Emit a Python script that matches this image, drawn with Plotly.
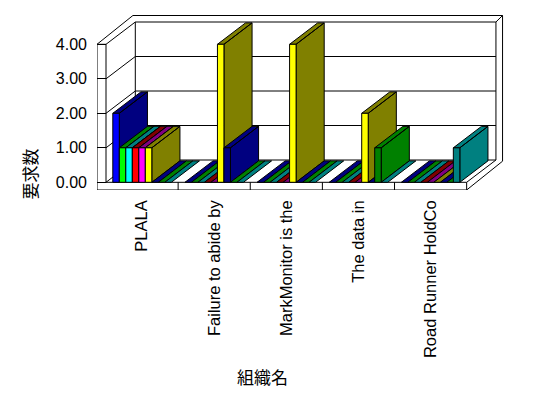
import plotly.graph_objects as go

# ---------------- data ----------------
categories = ["PLALA", "Failure to abide by", "MarkMonitor is the", "The data in", "Road Runner HoldCo"]
series_names = ["系列1", "系列2", "系列3", "系列4", "系列5", "系列6", "系列7", "系列8", "系列9"]
s1 = [2, 0, 0, 0, 0]
s2 = [1, 0, 0, 0, 0]
s3 = [1, 0, 0, 0, 0]
s4 = [1, 0, 0, 0, 0]
s5 = [1, 0, 0, 0, 0]
s6 = [1, 4, 4, 2, 0]
s7 = [0, 1, 0, 0, 0]
s8 = [0, 0, 0, 1, 0]
s9 = [0, 0, 0, 0, 1]
series_values = [s1, s2, s3, s4, s5, s6, s7, s8, s9]
y_ticks = [0, 1, 2, 3, 4]

# ---------------- styles ----------------
front_colors = ["#0000FF", "#00FF00", "#00FFFF", "#FF0000", "#FF00FF", "#FFFF00", "#000080", "#008000", "#008080"]
shade_colors = ["#000080", "#008000", "#008080", "#800000", "#800080", "#808000", "#000080", "#008000", "#008080"]

OFF = 8                      # default body margin of the html page
W, H = 548 - OFF, 398 - OFF  # figure size inside the page
# page-pixel layout constants
PX_X0, PX_PER_CAT = 106.0, 72.13      # pixel of category edge 0, pixels per category
PX_Y0, PX_PER_UNIT = 182.3, 34.5      # pixel of value 0, pixels per value unit
PL, PR, PT, PB = 97, 518, 10, 190     # plot area in page pixels
L, T = PL - OFF, PT - OFF
R, B = W - (PR - OFF), H - (PB - OFF)

xr = [(PL - PX_X0) / PX_PER_CAT, (PR - PX_X0) / PX_PER_CAT]
yr = [(PX_Y0 - PB) / PX_PER_UNIT, (PX_Y0 - PT) / PX_PER_UNIT]

# oblique depth (data units)
DX, DY = 29.3 / PX_PER_CAT, 22.3 / PX_PER_UNIT
BAR_DEPTH = 0.96
WALL_T = 9.0 / PX_PER_CAT          # left wall thickness
FLOOR_T = 7.7 / PX_PER_UNIT        # floor thickness
BWX, BWY = 6.6 / PX_PER_CAT, 6.5 / PX_PER_UNIT   # back wall thickness
n_cat = len(categories)
n_ser = len(series_values)
vmax = max(y_ticks)

bar_w = 6.5 / PX_PER_CAT
gap = (1 - n_ser * bar_w) / 2

fig = go.Figure()

# ---------------- frame (walls / floor) ----------------
shapes = []
def seg(x0, y0, x1, y1):
    shapes.append(dict(type="line", x0=x0, y0=y0, x1=x1, y1=y1, xref="x", yref="y",
                       line=dict(color="black", width=1), layer="below"))

for v in y_ticks:
    seg(DX, v + DY, n_cat + DX, v + DY)      # back wall gridline
    seg(0, v, DX, v + DY)                    # left wall gridline
seg(DX, DY, DX, vmax + DY)
seg(n_cat + DX, DY, n_cat + DX, vmax + DY)
# left wall front face
seg(-WALL_T, -FLOOR_T, -WALL_T, vmax)
seg(-WALL_T, vmax, 0, vmax)
seg(0, 0, 0, vmax)
seg(-WALL_T, vmax, -WALL_T + DX + BWX, vmax + DY + BWY)
# back wall outer
seg(-WALL_T + DX + BWX, vmax + DY + BWY, n_cat + DX + BWX, vmax + DY + BWY)
seg(n_cat + DX, vmax + DY, n_cat + DX + BWX, vmax + DY + BWY)
seg(n_cat + DX + BWX, vmax + DY + BWY, n_cat + DX + BWX, -FLOOR_T + DY + BWY)
# floor
seg(0, 0, n_cat, 0)
seg(-WALL_T, -FLOOR_T, n_cat, -FLOOR_T)
seg(n_cat, -FLOOR_T, n_cat, 0)
seg(n_cat, 0, n_cat + DX, DY)
seg(n_cat, -FLOOR_T, n_cat + DX + BWX, -FLOOR_T + DY + BWY)
for k in range(1, n_cat):
    seg(k, -FLOOR_T, k, 0)

# ---------------- bars (painted left to right) ----------------
bx, by = DX * BAR_DEPTH, DY * BAR_DEPTH
for i in range(n_cat):
    for j in range(n_ser):
        v = series_values[j][i]
        x0 = i + gap + j * bar_w
        x1 = x0 + bar_w
        xs, ys = [], []
        if v > 0:
            xs += [x1, x1 + bx, x1 + bx, x1, x1, None]
            ys += [0, by, v + by, v, 0, None]
        xs += [x0, x1, x1 + bx, x0 + bx, x0]
        ys += [v, v, v + by, v + by, v]
        fig.add_trace(go.Scatter(x=xs, y=ys, mode="lines", fill="toself",
                                 fillcolor=shade_colors[j], line=dict(color="black", width=1),
                                 hoverinfo="skip", showlegend=False, name=series_names[j]))
        if v > 0:
            fig.add_trace(go.Scatter(x=[x0, x1, x1, x0, x0], y=[0, 0, v, v, 0], mode="lines",
                                     fill="toself", fillcolor=front_colors[j],
                                     line=dict(color="black", width=1),
                                     name=series_names[j], showlegend=False,
                                     hovertemplate=categories[i] + ": %{customdata}<extra>" + series_names[j] + "</extra>",
                                     customdata=[v] * 5))

fig.update_layout(
    width=W, height=H,
    margin=dict(l=L, r=R, t=T, b=B, pad=0, autoexpand=False),
    paper_bgcolor="white", plot_bgcolor="white",
    showlegend=False,
    shapes=shapes,
    font=dict(family="Liberation Sans, Arial, sans-serif", size=16, color="black"),
    xaxis=dict(range=xr, tickmode="array", tickvals=[i + 0.5 for i in range(n_cat)],
               ticktext=categories, tickangle=-90, showgrid=False, zeroline=False,
               showline=False, ticks="", ticklabelstandoff=6,
               tickfont=dict(size=16.5), fixedrange=True, automargin=False),
    yaxis=dict(range=yr, tickmode="array", tickvals=y_ticks, tickformat=".2f",
               showgrid=False, zeroline=False, showline=False,
               ticks="inside", ticklen=9, tickcolor="black", tickwidth=1,
               ticklabelstandoff=9, fixedrange=True, automargin=False),
    annotations=[
        dict(text="要求数", xref="paper", yref="paper",
             x=(28.5 - PL) / (PR - PL), y=(PB - 174) / (PB - PT),
             xanchor="center", yanchor="middle", textangle=-90, showarrow=False,
             font=dict(family="Noto Sans CJK JP", size=17, color="black")),
        dict(text="組織名", xref="paper", yref="paper",
             x=(262 - PL) / (PR - PL), y=(PB - 376) / (PB - PT),
             xanchor="center", yanchor="middle", showarrow=False,
             font=dict(family="Noto Sans CJK JP", size=17, color="black")),
    ],
)

fig.write_html("out.html")
